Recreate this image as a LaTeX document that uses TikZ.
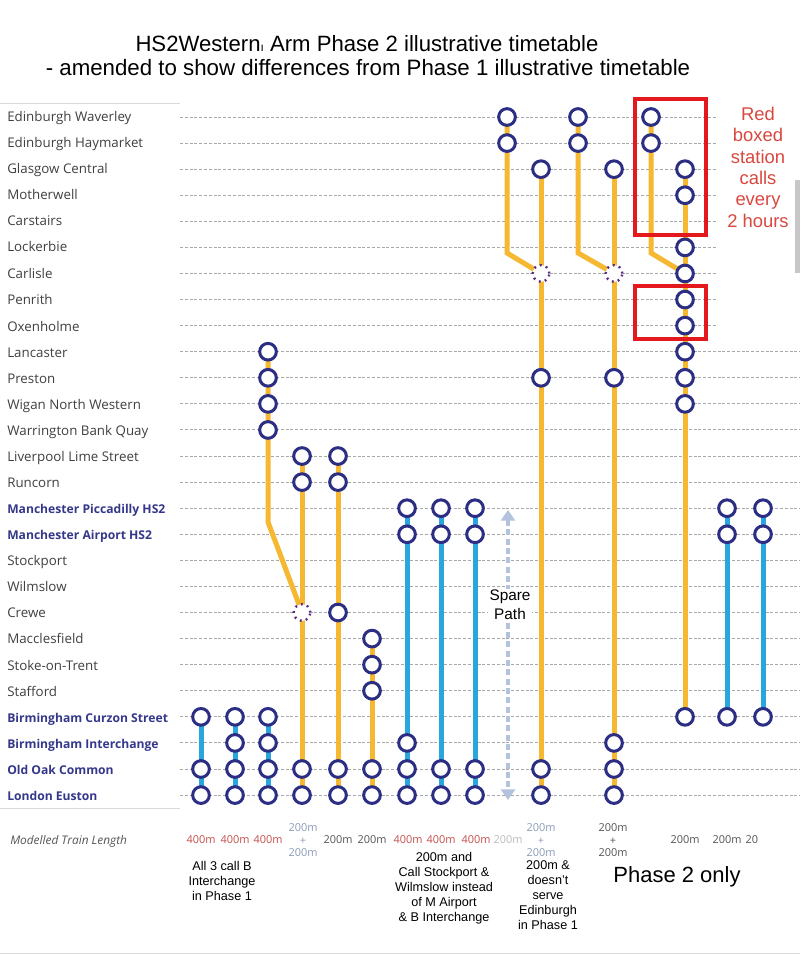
\documentclass[tikz,border=0pt]{standalone}
\usepackage{fontspec}
\setmainfont{Liberation Sans}
\newfontfamily\osans{Open Sans}
\usetikzlibrary{arrows.meta}
\pgfdeclarelayer{back}
\pgfdeclarelayer{grid}
\pgfdeclarelayer{bg}
\pgfsetlayers{back,grid,bg,main}
\definecolor{navy}{HTML}{2B2E83}
\definecolor{yel}{HTML}{F6B731}
\definecolor{cyanb}{HTML}{2AA6DF}
\definecolor{lbl}{HTML}{404040}
\definecolor{lblb}{HTML}{35388A}
\definecolor{gridc}{HTML}{A8A8A8}
\definecolor{redbx}{HTML}{E3191E}
\definecolor{redtxt}{HTML}{D9473F}
\definecolor{lenred}{HTML}{C4514E}
\definecolor{lenblue}{HTML}{8C9CB8}
\definecolor{lengray}{HTML}{555555}
\definecolor{lenlight}{HTML}{BBBBBB}
\definecolor{spare}{HTML}{B3C3DD}
\definecolor{dotp}{HTML}{5B2C83}
\newcommand{\callnode}[3]{\node[stop] (#1) at (#2,{117+26.08*(#3)}) {};}
\newcommand{\passnode}[3]{\node[pass] (#1) at (#2,{117+26.08*(#3)}) {};}
\tikzset{
 stop/.style={circle, draw=navy, fill=white, line width=2.25pt, minimum size=12.5pt, inner sep=0pt},
 pass/.style={circle, draw=dotp, fill=white, line width=1.8pt, dash pattern=on 1.4pt off 3.2pt, minimum size=12.5pt, inner sep=0pt},
 yl/.style={draw=yel, line width=3.75pt},
 bl/.style={draw=cyanb, line width=3.75pt},
 gridline/.style={draw=gridc, line width=0.7pt, dash pattern=on 2.2pt off 1.4pt},
 lab/.style={anchor=base west, inner sep=0pt, text=lbl, font=\osans\fontsize{10}{11}\selectfont},
 labb/.style={anchor=base west, inner sep=0pt, text=lblb, font=\osans\bfseries\fontsize{9.1}{11}\selectfont},
 len/.style={inner sep=0pt, align=center, font=\osans\fontsize{8.2}{9.4}\selectfont},
 note/.style={inner sep=0pt, align=center, anchor=north, font=\fontsize{9.5}{11.25}\selectfont},
 redframe/.style={draw=redbx, line width=3pt},
}
\begin{document}
\begin{tikzpicture}[x=0.75pt,y=-0.75pt]
\useasboundingbox (0,0) rectangle (800,955);
\begin{pgfonlayer}{back}
\fill[white] (0,0) rectangle (800,955);
\end{pgfonlayer}

% title
\node[anchor=base, inner sep=0pt, font=\fontsize{16.6}{18}\selectfont] (title1) at (367,52) {HS2Western{\fontsize{9}{9}\selectfont ı} Arm Phase 2 illustrative timetable};
\node[anchor=base, inner sep=0pt, font=\fontsize{16.7}{18}\selectfont] (title2) at (368,76) {- amended to show differences from Phase 1 illustrative timetable};

% grid lines and rules
\begin{pgfonlayer}{grid}
\foreach \r in {0,...,8} {\draw[gridline] (180,{117+26.08*\r}) -- (717,{117+26.08*\r});}
\foreach \r in {9,...,26} {\draw[gridline] (180,{117+26.08*\r}) -- (800,{117+26.08*\r});}
\draw[draw=black!15, line width=0.75pt] (0,104) -- (180,104);
\draw[draw=black!15, line width=0.75pt] (0,808) -- (180,808);
\draw[draw=black!15, line width=0.75pt] (0,953) -- (800,953);
\fill[black!22] (795,180) rectangle (800,273);
\end{pgfonlayer}

% station labels
\node[lab] (l0) at (7,122) {Edinburgh Waverley};
\node[lab] (l1) at (7,148) {Edinburgh Haymarket};
\node[lab] (l2) at (7,174) {Glasgow Central};
\node[lab] (l3) at (7,200) {Motherwell};
\node[lab] (l4) at (7,226) {Carstairs};
\node[lab] (l5) at (7,252) {Lockerbie};
\node[lab] (l6) at (7,278) {Carlisle};
\node[lab] (l7) at (7,305) {Penrith};
\node[lab] (l8) at (7,331) {Oxenholme};
\node[lab] (l9) at (7,357) {Lancaster};
\node[lab] (l10) at (7,383) {Preston};
\node[lab] (l11) at (7,409) {Wigan North Western};
\node[lab] (l12) at (7,435) {Warrington Bank Quay};
\node[lab] (l13) at (7,461) {Liverpool Lime Street};
\node[lab] (l14) at (7,487) {Runcorn};
\node[labb] (l15) at (7,513) {Manchester Piccadilly HS2};
\node[labb] (l16) at (7,539) {Manchester Airport HS2};
\node[lab] (l17) at (7,565) {Stockport};
\node[lab] (l18) at (7,591) {Wilmslow};
\node[lab] (l19) at (7,617) {Crewe};
\node[lab] (l20) at (7,643) {Macclesfield};
\node[lab] (l21) at (7,670) {Stoke-on-Trent};
\node[lab] (l22) at (7,696) {Stafford};
\node[labb] (l23) at (7,722) {Birmingham Curzon Street};
\node[labb] (l24) at (7,748) {Birmingham Interchange};
\node[labb] (l25) at (7,774) {Old Oak Common};
\node[labb] (l26) at (7,800) {London Euston};

% column 1
\callnode{a23}{201}{23}\callnode{a25}{201}{25}\callnode{a26}{201}{26}
% column 2
\callnode{b23}{235}{23}\callnode{b24}{235}{24}\callnode{b25}{235}{25}\callnode{b26}{235}{26}
% column 3 (north)
\callnode{c9}{268}{9}\callnode{c10}{268}{10}\callnode{c11}{268}{11}\callnode{c12}{268}{12}
\coordinate (cbend) at (268,522);
% column 3 (south)
\callnode{d23}{268}{23}\callnode{d24}{268}{24}\callnode{d25}{268}{25}\callnode{d26}{268}{26}
% column 4
\callnode{e13}{302}{13}\callnode{e14}{302}{14}\passnode{e19}{302}{19}\callnode{e25}{302}{25}\callnode{e26}{302}{26}
% column 5
\callnode{f13}{338}{13}\callnode{f14}{338}{14}\callnode{f19}{338}{19}\callnode{f25}{338}{25}\callnode{f26}{338}{26}
% column 6
\callnode{g20}{372}{20}\callnode{g21}{372}{21}\callnode{g22}{372}{22}\callnode{g25}{372}{25}\callnode{g26}{372}{26}
% column 7
\callnode{h15}{407}{15}\callnode{h16}{407}{16}\callnode{h24}{407}{24}\callnode{h25}{407}{25}\callnode{h26}{407}{26}
% column 8
\callnode{i15}{441}{15}\callnode{i16}{441}{16}\callnode{i25}{441}{25}\callnode{i26}{441}{26}
% column 9
\callnode{j15}{475}{15}\callnode{j16}{475}{16}\callnode{j25}{475}{25}\callnode{j26}{475}{26}
% column 11
\callnode{k0}{507}{0}\callnode{k1}{507}{1}\coordinate (kbend) at (507,253);
\callnode{m2}{541}{2}\passnode{m6}{541}{6}\callnode{m10}{541}{10}\callnode{m25}{541}{25}\callnode{m26}{541}{26}
% column 12
\callnode{n0}{578}{0}\callnode{n1}{578}{1}\coordinate (nbend) at (578,253);
\callnode{p2}{614}{2}\passnode{p6}{614}{6}\callnode{p10}{614}{10}\callnode{p24}{614}{24}\callnode{p25}{614}{25}\callnode{p26}{614}{26}
% column 13
\callnode{q0}{651}{0}\callnode{q1}{651}{1}\coordinate (qbend) at (651,253);
\callnode{s2}{685}{2}\callnode{s3}{685}{3}\callnode{s5}{685}{5}\callnode{s6}{685}{6}\callnode{s7}{685}{7}\callnode{s8}{685}{8}\callnode{s9}{685}{9}\callnode{s10}{685}{10}\callnode{s11}{685}{11}\callnode{s23}{685}{23}
% columns 14, 15
\callnode{t15}{727}{15}\callnode{t16}{727}{16}\callnode{t23}{727}{23}
\callnode{u15}{763}{15}\callnode{u16}{763}{16}\callnode{u23}{763}{23}

% spare path
\coordinate (sptop) at (508,510);
\coordinate (spbot) at (508,800);

\begin{pgfonlayer}{bg}
\draw[bl] (a23.center) -- (a26.center);
\draw[bl] (b23.center) -- (b26.center);
\draw[yl] (c9.center) -- (c12.center) -- (cbend) -- (e19.center);
\draw[bl] (d23.center) -- (d26.center);
\draw[yl] (e13.center) -- (e26.center);
\draw[yl] (f13.center) -- (f26.center);
\draw[yl] (g20.center) -- (g26.center);
\draw[bl] (h15.center) -- (h26.center);
\draw[bl] (i15.center) -- (i26.center);
\draw[bl] (j15.center) -- (j26.center);
\draw[yl] (k0.center) -- (kbend) -- (m6.center);
\draw[yl] (m2.center) -- (m26.center);
\draw[yl] (n0.center) -- (nbend) -- (p6.center);
\draw[yl] (p2.center) -- (p26.center);
\draw[yl] (q0.center) -- (qbend) -- (s6.center);
\draw[yl] (s2.center) -- (s23.center);
\draw[bl] (t15.center) -- (t23.center);
\draw[bl] (u15.center) -- (u23.center);
\draw[draw=spare, line width=3.2pt, dash pattern=on 4.5pt off 2.5pt, {Triangle[width=10.5pt,length=8pt]}-{Triangle[width=10.5pt,length=8pt]}] (sptop) -- (spbot);
\end{pgfonlayer}

\node[inner sep=1pt, align=center, font=\fontsize{11.5}{14.3}\selectfont, fill=white] (sparetxt) at (510,605) {Spare\\Path};

% red boxes and note
\draw[redframe] (635,99) rectangle (706,235);
\draw[redframe] (635,286) rectangle (706,339);
\node[inner sep=0pt, align=center, text=redtxt, font=\fontsize{13.8}{16}\selectfont, anchor=north] (rednote) at (758,107) {Red\\boxed\\station\\calls\\every\\2 hours};

% train lengths
\node[anchor=base west, inner sep=0pt, text=lengray, font=\osans\itshape\fontsize{8.9}{10}\selectfont] (mtl) at (10,844) {Modelled Train Length};
\node[len, text=lenred] (len1) at (201,840) {400m};
\node[len, text=lenred] (len2) at (235,840) {400m};
\node[len, text=lenred] (len3) at (268,840) {400m};
\node[len, text=lenblue] (len4) at (303,840.5) {200m\\+\\200m};
\node[len, text=lengray] (len5) at (338,840) {200m};
\node[len, text=lengray] (len6) at (372,840) {200m};
\node[len, text=lenred] (len7) at (408,840) {400m};
\node[len, text=lenred] (len8) at (441,840) {400m};
\node[len, text=lenred] (len9) at (476,840) {400m};
\node[len, text=lenlight] (len10) at (508,840) {200m};
\node[len, text=lenblue] (len11) at (541,840.5) {200m\\+\\200m};
\node[len, text=lengray] (len12) at (613,840.5) {200m\\+\\200m};
\node[len, text=lengray] (len13) at (685,840) {200m};
\node[len, text=lengray] (len14) at (727,840) {200m};
\begin{scope}
\clip (740,828) rectangle (757,852);
\node[len, text=lengray] (len15) at (760,840) {200m};
\end{scope}

% notes
\node[note] (note1) at (222,861) {All 3 call B\\Interchange\\in Phase 1};
\node[note] (note2) at (444,852) {200m and\\Call Stockport \&\\Wilmslow instead\\of M Airport\\\& B Interchange};
\node[note] (note3) at (548,860) {200m \&\\doesn't\\serve\\Edinburgh\\in Phase 1};
\node[inner sep=0pt, font=\fontsize{16.5}{18}\selectfont] (phase2) at (677,877) {Phase 2 only};
\end{tikzpicture}
\end{document}
